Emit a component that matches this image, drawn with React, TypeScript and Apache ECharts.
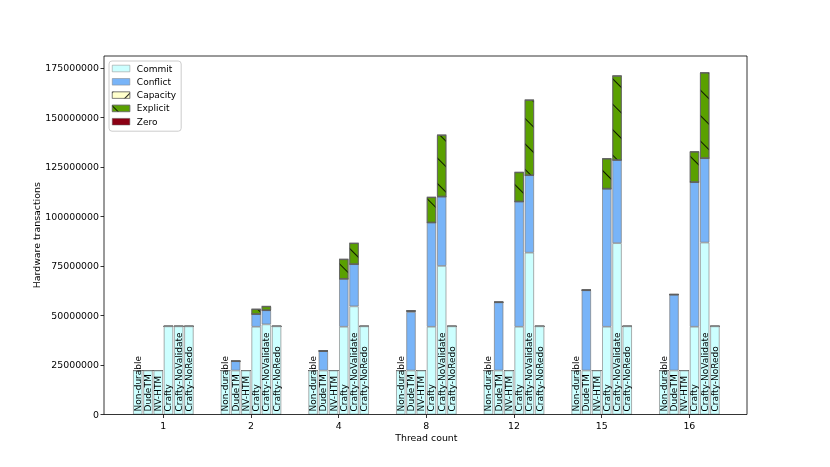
import React, { useEffect, useRef } from "react";
import * as echarts from "echarts";

const threads = ["1", "2", "4", "8", "12", "15", "16"];
const methods = ["Non-durable", "DudeTM", "NV-HTM", "Crafty", "Crafty-NoValidate", "Crafty-NoRedo"];
const components = ["Commit", "Conflict", "Capacity", "Explicit", "Zero"];
const yTicks = [0, 25000000, 50000000, 75000000, 100000000, 125000000, 150000000, 175000000];

// Non-durable
const nonDurableCommit = [22200000, 22200000, 22200000, 22200000, 22200000, 22200000, 22200000];
const nonDurableConflict = [0, 0, 0, 0, 0, 0, 0];
const nonDurableCapacity = [0, 0, 0, 0, 0, 0, 0];
const nonDurableExplicit = [0, 0, 0, 0, 0, 0, 0];
const nonDurableZero = [0, 0, 0, 0, 0, 0, 0];
// DudeTM
const dudeCommit = [22200000, 22200000, 22200000, 22200000, 22200000, 22200000, 22200000];
const dudeConflict = [0, 4700000, 9800000, 29600000, 34400000, 40500000, 38300000];
const dudeCapacity = [0, 0, 0, 400000, 0, 0, 0];
const dudeExplicit = [0, 0, 200000, 200000, 200000, 200000, 200000];
const dudeZero = [0, 0, 0, 0, 0, 0, 0];
// NV-HTM
const nvCommit = [22200000, 22200000, 22200000, 22200000, 22200000, 22200000, 22200000];
const nvConflict = [0, 0, 0, 0, 0, 0, 0];
const nvCapacity = [0, 0, 0, 0, 0, 0, 0];
const nvExplicit = [0, 0, 0, 0, 0, 0, 0];
const nvZero = [0, 0, 0, 0, 0, 0, 0];
// Crafty
const craftyCommit = [44500000, 44300000, 44300000, 44300000, 44300000, 44300000, 44300000];
const craftyConflict = [0, 6400000, 24200000, 52600000, 63200000, 69700000, 73000000];
const craftyCapacity = [0, 0, 0, 0, 0, 0, 0];
const craftyExplicit = [0, 2500000, 9900000, 12800000, 14800000, 15200000, 15400000];
const craftyZero = [0, 0, 0, 0, 0, 0, 0];
// Crafty-NoValidate
const noValCommit = [44500000, 45500000, 54600000, 75000000, 81700000, 86500000, 86800000];
const noValConflict = [0, 7100000, 21300000, 35000000, 39100000, 42000000, 42600000];
const noValCapacity = [0, 0, 0, 0, 0, 0, 0];
const noValExplicit = [0, 2000000, 10600000, 31100000, 38000000, 42500000, 43200000];
const noValZero = [0, 0, 0, 0, 0, 0, 0];
// Crafty-NoRedo
const noRedoCommit = [44500000, 44500000, 44500000, 44500000, 44500000, 44500000, 44500000];
const noRedoConflict = [0, 0, 0, 0, 0, 0, 0];
const noRedoCapacity = [0, 0, 0, 0, 0, 0, 0];
const noRedoExplicit = [0, 0, 0, 0, 0, 0, 0];
const noRedoZero = [0, 0, 0, 0, 0, 0, 0];

const methodData: number[][][] = [
  [nonDurableCommit, nonDurableConflict, nonDurableCapacity, nonDurableExplicit, nonDurableZero],
  [dudeCommit, dudeConflict, dudeCapacity, dudeExplicit, dudeZero],
  [nvCommit, nvConflict, nvCapacity, nvExplicit, nvZero],
  [craftyCommit, craftyConflict, craftyCapacity, craftyExplicit, craftyZero],
  [noValCommit, noValConflict, noValCapacity, noValExplicit, noValZero],
  [noRedoCommit, noRedoConflict, noRedoCapacity, noRedoExplicit, noRedoZero],
];

const FONT = "DejaVu Sans";

const compStyles: any[] = [
  { color: "#ccffff", borderColor: "#8a8a8a", borderWidth: 0.7 },
  { color: "#78b4f8", borderColor: "#808080", borderWidth: 0.7 },
  {
    color: "#ffffcc",
    borderColor: "#606060",
    borderWidth: 0.7,
    decal: { symbol: "rect", symbolSize: 1, dashArrayX: [1, 0], dashArrayY: [0.6, 12], rotation: -Math.PI / 4, color: "rgba(0,0,0,0.85)" },
  },
  {
    color: "#5aa000",
    borderColor: "#606060",
    borderWidth: 0.7,
    decal: { symbol: "rect", symbolSize: 1, dashArrayX: [1, 0], dashArrayY: [0.6, 17], rotation: Math.PI / 4, color: "rgba(0,0,0,0.85)" },
  },
  { color: "#8b0014", borderColor: "#606060", borderWidth: 0.7 },
];

export default function App() {
  const ref = useRef<HTMLDivElement>(null);
  useEffect(() => {
    if (!ref.current) return;
    const chart = echarts.init(ref.current, null, { renderer: "svg" });
    const series: any[] = [];
    methods.forEach((m, mi) => {
      components.forEach((c, ci) => {
        const s: any = {
          type: "bar",
          name: c,
          stack: m,
          data: methodData[mi][ci],
          barWidth: 9.3,
          barGap: "10%",
          itemStyle: compStyles[ci],
          emphasis: { disabled: true },
        };
        if (ci === 0) {
          s.label = {
            show: true,
            position: "insideBottom",
            rotate: 90,
            align: "left",
            verticalAlign: "middle",
            distance: 3,
            formatter: () => m,
            fontFamily: FONT,
            fontSize: 9,
            color: "#000000",
          };
          s.z = 3;
        }
        series.push(s);
      });
    });

    chart.setOption({
      animation: false,
      grid: { left: 119.5, right: 96.8, top: 56, bottom: 52.5 },
      legend: {
        data: components,
        orient: "vertical",
        left: 109,
        top: 61,
        itemWidth: 17.6,
        itemHeight: 6.6,
        itemGap: 4.3,
        padding: [3, 5, 5, 3],
        borderColor: "#cccccc",
        borderWidth: 1,
        borderRadius: 3,
        backgroundColor: "rgba(255,255,255,0.8)",
        icon: "rect",
        itemStyle: { borderWidth: 0.5 },
        textStyle: { fontFamily: FONT, fontSize: 9, color: "#000000", padding: [0, 0, 0, 2] },
        selectedMode: false,
      },
      xAxis: {
        type: "category",
        data: threads,
        name: "Thread count",
        nameLocation: "middle",
        nameGap: 18,
        nameMoveOverlap: false,
        nameTextStyle: { fontFamily: FONT, fontSize: 9.4, color: "#000000" },
        axisLine: { show: false },
        axisTick: { show: true, alignWithLabel: true, length: 3.5, lineStyle: { color: "#000000", width: 0.8 } },
        axisLabel: { fontFamily: FONT, fontSize: 9.4, color: "#000000", margin: 6 },
        splitLine: { show: false },
      },
      yAxis: {
        type: "value",
        min: 0,
        max: 181000000,
        interval: 25000000,
        offset: 15.5,
        name: "Hardware transactions",
        nameLocation: "middle",
        nameGap: 63,
        nameMoveOverlap: false,
        nameTextStyle: { fontFamily: FONT, fontSize: 9.4, color: "#000000" },
        axisLine: { show: false },
        axisTick: { show: true, length: 3.5, lineStyle: { color: "#000000", width: 0.8 }, customValues: yTicks },
        axisLabel: {
          fontFamily: FONT,
          fontSize: 9.4,
          color: "#000000",
          margin: 5,
          customValues: yTicks,
          formatter: (v: number) => String(v),
        },
        splitLine: { show: false },
      },
      graphic: [
        {
          type: "rect",
          shape: { x: 104, y: 56, width: 643, height: 358.5 },
          style: { fill: "none", stroke: "#000000", lineWidth: 0.8 },
          z: 100,
          silent: true,
        },
      ],
      series,
    });
    return () => chart.dispose();
  }, []);
  return <div ref={ref} style={{ position: "fixed", left: 0, top: 0, width: 830, height: 467 }} />;
}
